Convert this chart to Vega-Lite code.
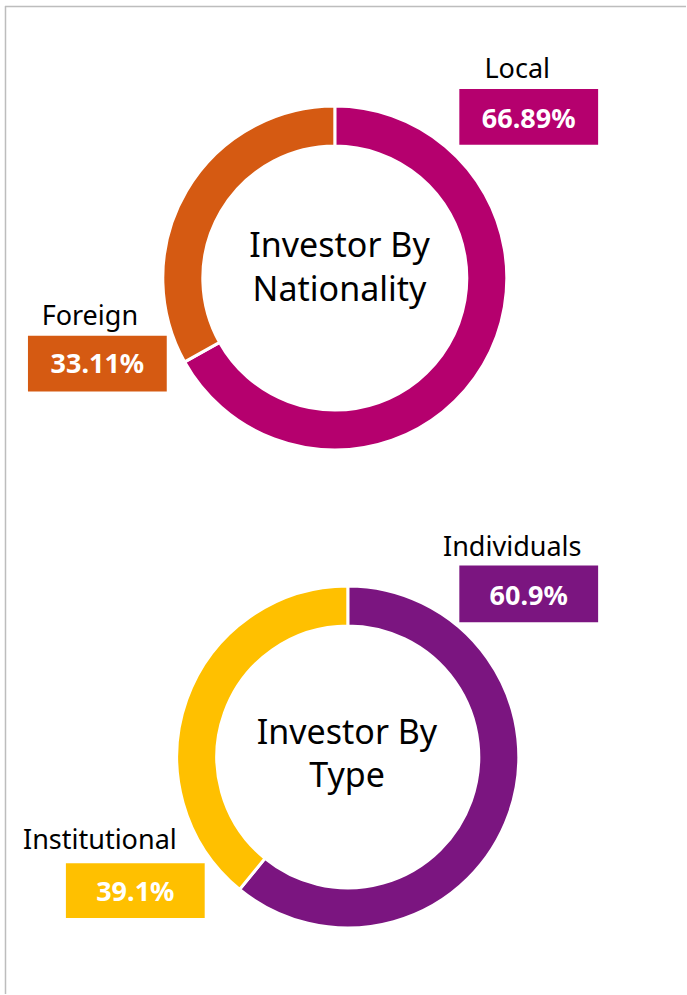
{
  "$schema": "https://vega.github.io/schema/vega-lite/v6.json",
  "width": 687,
  "height": 995,
  "padding": 0,
  "autosize": {"type": "fit", "contains": "padding"},
  "background": "white",
  "config": {"view": {"stroke": null}, "text": {"font": "Noto Sans"}},
  "datasets": {
    "shares": [
      {"chart": "Nationality", "category": "Local", "value": 66.89, "label": "66.89%"},
      {"chart": "Nationality", "category": "Foreign", "value": 33.11, "label": "33.11%"},
      {"chart": "Type", "category": "Individuals", "value": 60.9, "label": "60.9%"},
      {"chart": "Type", "category": "Institutional", "value": 39.1, "label": "39.1%"}
    ],
    "titles": [
      {"chart": "Nationality", "title": "Investor By\nNationality"},
      {"chart": "Type", "title": "Investor By\nType"}
    ]
  },
  "data": {"name": "shares"},
  "encoding": {
    "x": {"type": "quantitative", "scale": {"domain": [0, 687], "nice": false, "zero": false}, "axis": null},
    "y": {"type": "quantitative", "scale": {"domain": [0, 995], "nice": false, "zero": false, "reverse": true}, "axis": null}
  },
  "resolve": {"scale": {"x": "shared", "y": "shared"}},
  "layer": [
    {
      "data": {"values": [{"edge": "left"}]},
      "mark": {"type": "rule", "color": "#BDBDBD", "strokeWidth": 1.5},
      "encoding": {"x": {"datum": 5.5}, "y": {"datum": 6}, "y2": {"datum": 995}}
    },
    {
      "data": {"values": [{"edge": "top"}]},
      "mark": {"type": "rule", "color": "#BDBDBD", "strokeWidth": 1.5},
      "encoding": {"y": {"datum": 6.5}, "x": {"datum": 5}, "x2": {"datum": 687}}
    },
    {
      "transform": [{"filter": "datum.chart === 'Nationality'"}],
      "mark": {"type": "arc", "innerRadius": 132, "outerRadius": 172, "stroke": "white", "strokeWidth": 3},
      "encoding": {
        "x": {"datum": 335.3},
        "y": {"datum": 278.3},
        "theta": {"field": "value", "type": "quantitative", "stack": true},
        "order": {"field": "value", "sort": "descending"},
        "color": {"field": "category", "type": "nominal", "legend": null,
          "scale": {"domain": ["Local", "Foreign", "Individuals", "Institutional"], "range": ["#B5006E", "#D55A12", "#7B1580", "#FFC000"]}}
      }
    },
    {
      "transform": [{"filter": "datum.chart === 'Type'"}],
      "mark": {"type": "arc", "innerRadius": 131, "outerRadius": 171, "stroke": "white", "strokeWidth": 3},
      "encoding": {
        "x": {"datum": 348.3},
        "y": {"datum": 757.7},
        "theta": {"field": "value", "type": "quantitative", "stack": true},
        "order": {"field": "value", "sort": "descending"},
        "color": {"field": "category", "type": "nominal", "legend": null}
      }
    },
    {
      "data": {"name": "titles"},
      "transform": [{"filter": "datum.chart === 'Nationality'"}],
      "mark": {"type": "text", "fontSize": 34, "align": "center", "baseline": "alphabetic", "lineBreak": "\n", "lineHeight": 44, "color": "black"},
      "encoding": {"x": {"datum": 340}, "y": {"datum": 257}, "text": {"field": "title"}}
    },
    {
      "data": {"name": "titles"},
      "transform": [{"filter": "datum.chart === 'Type'"}],
      "mark": {"type": "text", "fontSize": 34, "align": "center", "baseline": "alphabetic", "lineBreak": "\n", "lineHeight": 43, "color": "black"},
      "encoding": {"x": {"datum": 347.5}, "y": {"datum": 745}, "text": {"field": "title"}}
    },
    {
      "transform": [{"filter": "datum.category === 'Local'"}],
      "mark": {"type": "rect"},
      "encoding": {"x": {"datum": 460}, "x2": {"datum": 599}, "y": {"datum": 89}, "y2": {"datum": 145}, "color": {"field": "category", "type": "nominal", "legend": null}}
    },
    {
      "transform": [{"filter": "datum.category === 'Foreign'"}],
      "mark": {"type": "rect"},
      "encoding": {"x": {"datum": 28}, "x2": {"datum": 167}, "y": {"datum": 336}, "y2": {"datum": 392}, "color": {"field": "category", "type": "nominal", "legend": null}}
    },
    {
      "transform": [{"filter": "datum.category === 'Individuals'"}],
      "mark": {"type": "rect"},
      "encoding": {"x": {"datum": 460}, "x2": {"datum": 599}, "y": {"datum": 566}, "y2": {"datum": 623}, "color": {"field": "category", "type": "nominal", "legend": null}}
    },
    {
      "transform": [{"filter": "datum.category === 'Institutional'"}],
      "mark": {"type": "rect"},
      "encoding": {"x": {"datum": 66}, "x2": {"datum": 205}, "y": {"datum": 864}, "y2": {"datum": 919}, "color": {"field": "category", "type": "nominal", "legend": null}}
    },
    {
      "transform": [{"filter": "datum.category === 'Local'"}],
      "mark": {"type": "text", "fontSize": 27, "align": "center", "baseline": "alphabetic", "color": "black"},
      "encoding": {"x": {"datum": 518}, "y": {"datum": 78}, "text": {"field": "category"}}
    },
    {
      "transform": [{"filter": "datum.category === 'Foreign'"}],
      "mark": {"type": "text", "fontSize": 27, "align": "center", "baseline": "alphabetic", "color": "black"},
      "encoding": {"x": {"datum": 90}, "y": {"datum": 325}, "text": {"field": "category"}}
    },
    {
      "transform": [{"filter": "datum.category === 'Individuals'"}],
      "mark": {"type": "text", "fontSize": 27, "align": "center", "baseline": "alphabetic", "color": "black"},
      "encoding": {"x": {"datum": 513}, "y": {"datum": 557}, "text": {"field": "category"}}
    },
    {
      "transform": [{"filter": "datum.category === 'Institutional'"}],
      "mark": {"type": "text", "fontSize": 27, "align": "center", "baseline": "alphabetic", "color": "black"},
      "encoding": {"x": {"datum": 100}, "y": {"datum": 850}, "text": {"field": "category"}}
    },
    {
      "transform": [{"filter": "datum.category === 'Local'"}],
      "mark": {"type": "text", "fontSize": 27, "fontWeight": "bold", "align": "center", "baseline": "alphabetic", "color": "white"},
      "encoding": {"x": {"datum": 529.5}, "y": {"datum": 128}, "text": {"field": "label"}}
    },
    {
      "transform": [{"filter": "datum.category === 'Foreign'"}],
      "mark": {"type": "text", "fontSize": 27, "fontWeight": "bold", "align": "center", "baseline": "alphabetic", "color": "white"},
      "encoding": {"x": {"datum": 97.5}, "y": {"datum": 373.5}, "text": {"field": "label"}}
    },
    {
      "transform": [{"filter": "datum.category === 'Individuals'"}],
      "mark": {"type": "text", "fontSize": 27, "fontWeight": "bold", "align": "center", "baseline": "alphabetic", "color": "white"},
      "encoding": {"x": {"datum": 529.5}, "y": {"datum": 606}, "text": {"field": "label"}}
    },
    {
      "transform": [{"filter": "datum.category === 'Institutional'"}],
      "mark": {"type": "text", "fontSize": 27, "fontWeight": "bold", "align": "center", "baseline": "alphabetic", "color": "white"},
      "encoding": {"x": {"datum": 135.5}, "y": {"datum": 902}, "text": {"field": "label"}}
    }
  ]
}
